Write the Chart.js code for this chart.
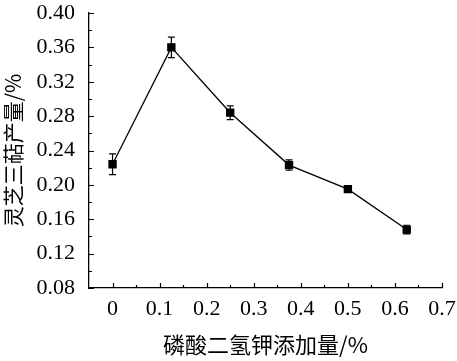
<!DOCTYPE html>
<html>
<head>
<meta charset="utf-8">
<script src="https://cdn.jsdelivr.net/npm/chart.js@4/dist/chart.umd.min.js"></script>
<style>
  html, body { margin: 0; padding: 0; background: #fff; }
  #wrap { width: 457px; height: 361px; }
</style>
</head>
<body>
<div id="wrap"><canvas id="myChart"></canvas></div>
<script>
// 数据
const dosage = [0, 0.125, 0.25, 0.375, 0.5, 0.625];
const yieldVals = [0.224, 0.360, 0.284, 0.223, 0.195, 0.148];
const yieldErr = [0.012, 0.012, 0.008, 0.006, 0.002, 0.005];
const yTicks = [0.08, 0.12, 0.16, 0.20, 0.24, 0.28, 0.32, 0.36, 0.40];

const serif = "'Liberation Serif', 'Times New Roman', serif";
const cjk = "'Noto Sans CJK SC', sans-serif";

// 误差线
const errorBars = {
  id: 'errorBars',
  afterDatasetsDraw(chart) {
    const ctx = chart.ctx;
    const xs = chart.scales.x, ys = chart.scales.y;
    ctx.save();
    ctx.strokeStyle = '#000';
    ctx.lineWidth = 1.2;
    dosage.forEach((d, i) => {
      const px = xs.getPixelForValue(d);
      const top = ys.getPixelForValue(yieldVals[i] + yieldErr[i]);
      const bot = ys.getPixelForValue(yieldVals[i] - yieldErr[i]);
      ctx.beginPath();
      ctx.moveTo(px, top); ctx.lineTo(px, bot);
      ctx.moveTo(px - 3.5, top); ctx.lineTo(px + 3.5, top);
      ctx.moveTo(px - 3.5, bot); ctx.lineTo(px + 3.5, bot);
      ctx.stroke();
    });
    ctx.restore();
  }
};

// 刻度线（朝内，主次刻度）
const inTicks = {
  id: 'inTicks',
  afterDraw(chart) {
    const ctx = chart.ctx;
    const xs = chart.scales.x, ys = chart.scales.y;
    ctx.save();
    ctx.strokeStyle = '#000';
    ctx.lineWidth = 1.2;
    ctx.beginPath();
    xs.ticks.forEach(t => {
      const v = Math.round(t.value * 100);
      if (v < 0) return;
      const len = v % 10 === 0 ? 5 : 3;
      const px = Math.round(xs.getPixelForValue(t.value)) + 0.5;
      ctx.moveTo(px, xs.top); ctx.lineTo(px, xs.top - len);
    });
    ys.ticks.forEach(t => {
      const v = Math.round(t.value * 100);
      const len = v % 4 === 0 ? 5 : 3;
      const py = Math.round(ys.getPixelForValue(t.value)) + 0.5;
      ctx.moveTo(ys.right, py); ctx.lineTo(ys.right + len, py);
    });
    ctx.stroke();
    ctx.restore();
  }
};

const ctx = document.getElementById('myChart').getContext('2d');
new Chart(ctx, {
  type: 'line',
  data: {
    datasets: [{
      data: dosage.map((d, i) => ({ x: d, y: yieldVals[i] })),
      borderColor: '#000',
      backgroundColor: '#000',
      borderWidth: 1.3,
      pointStyle: 'rect',
      pointRadius: 5,
      pointHoverRadius: 5,
      tension: 0
    }]
  },
  options: {
    responsive: true,
    maintainAspectRatio: false,
    animation: false,
    events: [],
    layout: { padding: { left: 0, right: 15, top: 13, bottom: 0 } },
    plugins: { legend: { display: false }, tooltip: { enabled: false } },
    scales: {
      x: {
        type: 'linear',
        min: -0.05,
        max: 0.7,
        grid: { display: false, drawTicks: false },
        border: { display: true, color: '#000', width: 1.3 },
        afterFit: s => { s.height = 73; s.paddingLeft = 0; s.paddingRight = 0; },
        ticks: {
          stepSize: 0.05,
          padding: 8,
          color: '#000',
          font: { family: serif, size: 22 },
          autoSkip: false,
          maxRotation: 0,
          callback: v => {
            const n = Math.round(v * 100);
            if (n < 0 || n % 10 !== 0) return '';
            return n === 0 ? '0' : (n / 100).toFixed(1);
          }
        },
        title: {
          display: true,
          text: '磷酸二氢钾添加量/%',
          color: '#000',
          font: { family: cjk, size: 22 },
          padding: { top: 0, bottom: 3 }
        }
      },
      y: {
        min: 0.08,
        max: 0.40,
        grid: { display: false, drawTicks: false },
        border: { display: true, color: '#000', width: 1.3 },
        afterFit: s => { s.width = 89; s.paddingTop = 0; s.paddingBottom = 0; },
        afterBuildTicks: scale => {
          const t = [];
          for (let v = 8; v <= 40; v += 2) t.push({ value: v / 100 });
          scale.ticks = t;
        },
        ticks: {
          padding: 14,
          color: '#000',
          font: { family: serif, size: 22 },
          autoSkip: false,
          callback: v => {
            const n = Math.round(v * 100);
            return yTicks.some(y => Math.round(y * 100) === n) ? (n / 100).toFixed(2) : '';
          }
        },
        title: {
          display: true,
          text: '灵芝三萜产量/%',
          color: '#000',
          font: { family: cjk, size: 21 },
          padding: { top: 0, bottom: 0 }
        }
      }
    }
  },
  plugins: [errorBars, inTicks]
});
</script>
</body>
</html>
